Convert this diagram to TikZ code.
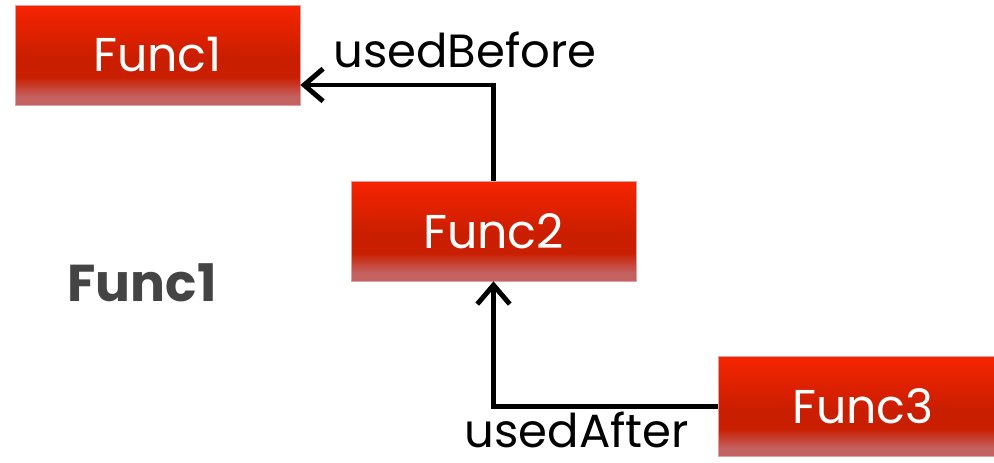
\documentclass[tikz,border=0pt]{standalone}
\usepackage{fontspec}
\setmainfont{Poppins}
\usepackage{tikz}
\usetikzlibrary{arrows.meta, positioning}
\definecolor{ftop}{RGB}{246,36,0}
\definecolor{fmid}{RGB}{201,30,0}
\definecolor{fbot}{RGB}{196,98,98}
\definecolor{titlegray}{RGB}{68,68,68}
\pgfdeclareverticalshading{funcshade}{100bp}{color(0bp)=(fbot); color(25bp)=(fbot);
  color(29bp)=(fbot); color(39bp)=(fmid); color(48bp)=(fmid); color(75bp)=(ftop);
  color(100bp)=(ftop)}
\tikzstyle{func} = [shading=funcshade, draw=fbot!60!white, line width=0.4pt,
    minimum width=5.7cm, minimum height=2cm, inner sep=0pt,
    text=white, font=\fontsize{27}{32}\selectfont]
\tikzstyle{lbl} = [font=\fontsize{26.5}{32}\selectfont, inner sep=0pt]
\tikzstyle{arr} = [-{Straight Barb[length=3.8mm, width=6.5mm, line width=2.8pt]}, line width=2.8pt, black]

\begin{document}
\begin{tikzpicture}[x=0.02cm, y=-0.02cm]
  \useasboundingbox (0,0) rectangle (994,463);
  % Boxes
  \node[func] (f1) at (157.5,55) {Func1};
  \node[func] (f2) at (493.5,231) {Func2};
  \node[func, minimum width=5.8cm] (f3) at (863,406.5) {Func3};

  % Title
  \node[font=\bfseries\fontsize{29.5}{34}\selectfont, text=titlegray] (title) at (142,283) {Func1};

  % Arrows
  \coordinate (in1) at ([yshift=-0.6cm]f1.east);
  \draw[arr] (f2.north) |- (in1);
  \draw[arr] (f3.west) -| (f2.south);

  % Labels
  \node[lbl] (before) at (465,50) {usedBefore};
  \node[lbl, text depth=0pt, anchor=base] (after) at (577,447) {usedAfter};
\end{tikzpicture}
\end{document}
